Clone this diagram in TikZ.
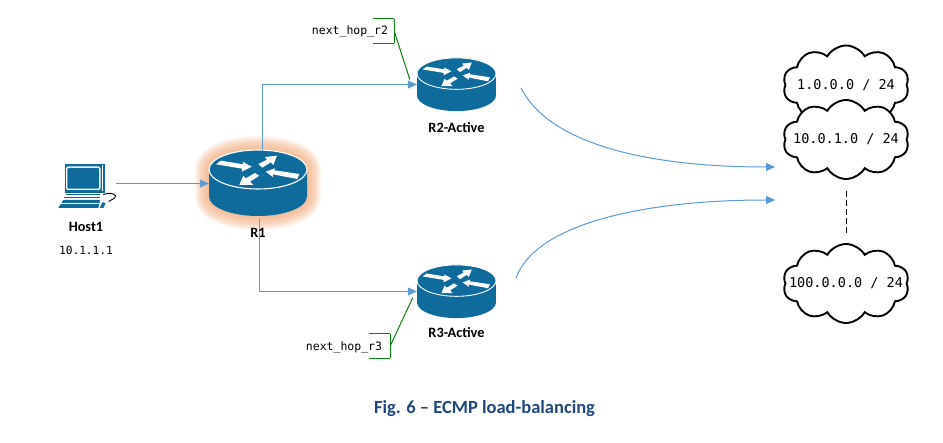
\documentclass[tikz,border=0pt]{standalone}
\usepackage{fontspec}
\setmainfont{Carlito}
\newfontfamily\netfont{DejaVu Sans Mono}
\usetikzlibrary{arrows.meta}
\usetikzlibrary{positioning}
\usetikzlibrary{shapes.symbols}
\definecolor{routerblue}{HTML}{0F6B9C}
\definecolor{linkblue}{HTML}{5B9BD5}
\definecolor{glowpeach}{HTML}{F0A878}
\definecolor{hopgreen}{HTML}{0A8010}
\definecolor{captionblue}{HTML}{1F497D}
\tikzset{
routerbox/.style={inner sep=0pt,minimum width=98pt,minimum height=66pt},
smallrouter/.style={inner sep=0pt,minimum width=79pt,minimum height=53pt},
hostbox/.style={inner sep=0pt,minimum width=60pt,minimum height=48pt},
lbl/.style={font=\bfseries\fontsize{14.3}{16}\selectfont,inner sep=0pt},
ipfont/.style={font=\netfont\fontsize{11.2}{13}\selectfont,inner sep=0pt},
hopfont/.style={font=\netfont\fontsize{11.5}{13}\selectfont,inner sep=0pt},
link/.style={->,>={Triangle[length=9pt,width=8pt]},linkblue,line width=1pt},
hopline/.style={hopgreen,line width=1pt},
hopbox/.style={inner sep=0pt,minimum width=21pt,minimum height=24pt},
netcloud/.style={cloud,cloud puffs=10,cloud puff arc=120,cloud ignores aspect,
  draw=black,line width=1.9pt,fill=white,inner sep=0pt,
  minimum width=126pt,minimum height=79pt,
  font=\netfont\fontsize{13.5}{15}\selectfont},
router/.pic={
  \begin{scope}[scale=#1]
  \fill[routerblue] (-49,-13.5) arc[start angle=180,end angle=360,x radius=49,y radius=19.5]
    -- (49,13.5) arc[start angle=0,end angle=180,x radius=49,y radius=19.5] -- cycle;
  \draw[white,fill=routerblue,line width=#1*1.1pt] (0,-13.5) ellipse [x radius=49,y radius=19.5];
  \fill[white] (-37,-22.3) -- (-14.7,-18.7) -- (-15.3,-21.3) -- (-6.3,-16.3) -- (-16.3,-11.3) -- (-15.7,-14.3) -- (-42,-18.7) -- cycle;
  \fill[white] (19,-27.3) -- (7,-26) -- (9,-23.3) -- (0.3,-19) -- (4.3,-15.3) -- (12.7,-20.7) -- (15.3,-18) -- cycle;
  \fill[white] (7.7,-11.3) -- (17,-14.7) -- (16.3,-12.7) -- (41.3,-9) -- (39.3,-4) -- (14.7,-8.7) -- (15.3,-5.7) -- cycle;
  \fill[white] (-18.7,2) -- (-4.7,2) -- (-8,-1.3) -- (1.3,-7.3) -- (-3,-10) -- (-12.3,-4.7) -- (-14.7,-7.3) -- cycle;
  \end{scope}
},
routerglow/.pic={
  \foreach \g in {28,25,...,4}
    \draw[glowpeach,opacity=0.13,line width=\g pt,line join=round] (-49,-13.5)
      arc[start angle=180,end angle=360,x radius=49,y radius=19.5]
      -- (49,13.5) arc[start angle=0,end angle=180,x radius=49,y radius=19.5] -- cycle;
},
hosticon/.pic={
  \fill[routerblue] (-21,-19.8) rectangle (19,9.5);
  \fill[white,rounded corners=2pt] (-20,-17) rectangle (14.5,6.5);
  \fill[routerblue,rounded corners=1pt] (-18.7,-15.5) rectangle (13,5.2);
  \draw[white,line width=0.6pt] (16,-18) -- (16,8);
  \fill[routerblue] (-20,10.5) rectangle (14,12);
  \fill[routerblue] (-22.5,13.5) rectangle (14,15);
  \fill[routerblue] (-22.7,16.5) -- (14,16.5) -- (12.3,24.5) -- (-27.7,24.5) -- cycle;
  \draw[white,line width=0.6pt] (-25,20) -- (13,20);
  \fill[routerblue] (13.7,24.5) -- (16.7,18.5) -- (19.5,20) -- (17.5,24.5) -- cycle;
  \draw[black,line width=0.9pt] (17.3,11.2) .. controls (24,8) and (33,11) .. (28,15) -- (22.5,18);
}
}

\begin{document}
\begin{tikzpicture}[x=1pt,y=-1pt]
\useasboundingbox (0,0) rectangle (943,443);

\pic at (258,183) {routerglow};

\node[hostbox] (Host) at (86,183.5) {};
\node[routerbox] (R1) at (258,183) {};
\node[smallrouter] (R2) at (456.5,84.5) {};
\node[smallrouter] (R3) at (456.5,291.5) {};

\pic at (Host) {hosticon};
\pic at (R1) {router=1};
\pic at (R2) {router=0.806};
\pic at (R3) {router=0.806};

\node[netcloud] (n1) at (846,85) {\makebox[0pt]{1.0.0.0 / 24}};
\node[netcloud] (n2) at (846,139.5) {\makebox[0pt]{10.0.1.0 / 24}};
\node[netcloud] (n3) at (846,283.5) {\makebox[0pt]{100.0.0.0 / 24}};

\node[hopfont] (hop2) at (350,31) {next\_hop\_r2};
\node[hopfont] (hop3) at (344,347) {next\_hop\_r3};
\node[hopbox] (brk2) at (383.5,31) {};
\node[hopbox] (brk3) at (379.5,346) {};

\coordinate (r2out) at (521,88);
\coordinate (r3out) at (516,278);
\coordinate (netin2) at (775,167);
\coordinate (netin3) at (775,200);

% traffic paths
\draw[link] (Host.east) -- (Host.east -| R1.west);
\draw[link] ([xshift=4pt]R1.north) |- (R2.west);
\draw[link] ([xshift=1.5pt,yshift=-3pt]R1.south) |- (R3.west);
\draw[link] (r2out) .. controls (550,145) and (650,167) .. (netin2);
\draw[link] (r3out) .. controls (535,225) and (640,200) .. (netin3);

\draw[black,dash pattern=on 6pt off 3pt,line width=1pt,shorten <=11pt,shorten >=10pt] (n2.south) -- (n3.north);

% next hop brackets
\path[hopline]
(brk2.north west) edge (brk2.north east)
(brk2.north east) edge (brk2.south east)
(brk2.south east) edge (brk2.south west)
(brk2.east) edge ([xshift=-7pt,yshift=5pt]R2.west)
(brk3.north west) edge (brk3.north east)
(brk3.north east) edge (brk3.south east)
(brk3.south east) edge (brk3.south west)
(brk3.east) edge ([xshift=-4pt,yshift=-6pt]R3.west)
;

\node[lbl] (Hostlbl) [below of=Host,node distance=43.5pt] {Host1};
\node[ipfont] (Hostip) [below of=Hostlbl,node distance=23pt] {10.1.1.1};
\node[lbl] (R1lbl) [below of=R1,node distance=50pt] {R1};
\node[lbl] (R2lbl) [below of=R2,node distance=43pt] {R2-Active};
\node[lbl] (R3lbl) [below of=R3,node distance=41.5pt] {R3-Active};

\node[font=\bfseries\fontsize{18.5}{20}\selectfont,text=captionblue,inner sep=0pt] (caption) at (484.5,408.5) {Fig. 6 -- ECMP load-balancing};
\end{tikzpicture}
\end{document}
